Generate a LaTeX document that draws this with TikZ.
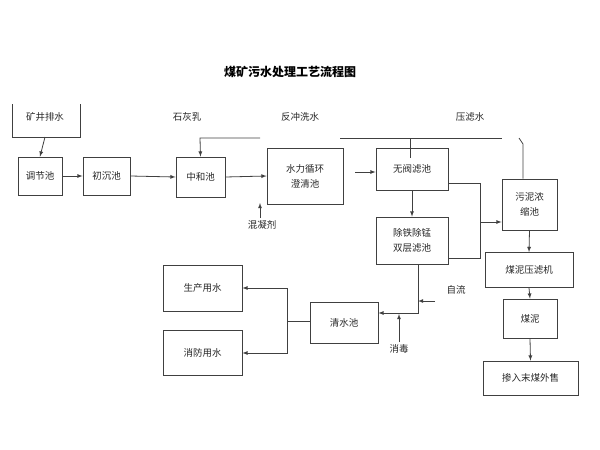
\documentclass[tikz,border=0pt]{standalone}
\usepackage{fontspec}
\newfontfamily\cjk{Noto Sans CJK SC}
\begin{document}
\begin{tikzpicture}[x=1pt,y=-1pt,
  box/.style={draw=black!75,line width=0.8pt,rectangle,inner sep=1pt,font=\cjk\fontsize{9.5}{15}\selectfont,align=center,text=black!85},
  lbl/.style={font=\cjk\fontsize{9.5}{11}\selectfont,text=black!85},
  ln/.style={draw=black!75,line width=0.8pt},
  ar/.style={ln,-latex}]
\useasboundingbox (0,0) rectangle (600,450);
\node[font=\cjk\bfseries\fontsize{12}{14}\selectfont] (title) at (290,72) {煤矿污水处理工艺流程图};
\node[box,minimum width=44pt,minimum height=38pt] (tj) at (40,176) {调节池};
\node[box,minimum width=47pt,minimum height=38pt] (cc) at (106.5,176) {初沉池};
\node[box,minimum width=49pt,minimum height=40pt] (zh) at (200.5,177) {中和池};
\node[box,minimum width=76pt,minimum height=56pt] (cq) at (305,176) {水力循环\\澄清池};
\node[box,minimum width=72pt,minimum height=42pt] (wf) at (412,169) {无阀滤池};
\node[box,minimum width=72pt,minimum height=47pt] (ct) at (412,240.5) {除铁除锰\\双层滤池};
\node[box,minimum width=55pt,minimum height=51pt] (wn) at (529.5,204.5) {污泥浓\\缩池};
\node[box,minimum width=88pt,minimum height=35pt] (yl) at (529,270) {煤泥压滤机};
\node[box,minimum width=54pt,minimum height=39pt] (mn) at (530,318.5) {煤泥};
\node[box,minimum width=95pt,minimum height=34pt] (cr) at (530.5,378) {掺入末煤外售};
\node[box,minimum width=68pt,minimum height=41pt] (qs) at (344,322.5) {清水池};
\node[box,minimum width=79pt,minimum height=46pt] (sc) at (202.5,288) {生产用水};
\node[box,minimum width=79pt,minimum height=45pt] (xf) at (202.5,352.5) {消防用水};
\node[lbl] (kj) at (45,117) {矿井排水};
\node[lbl] (shr) at (187,117) {石灰乳};
\node[lbl] (fc) at (300,117) {反冲洗水};
\node[lbl] (ylw) at (470,117) {压滤水};
\node[lbl] (hn) at (262,225) {混凝剂};
\node[lbl] (zl) at (456,290) {自流};
\node[lbl] (xd) at (399,349) {消毒};
\coordinate (k1) at (12,104); \coordinate (k2) at (12,137); \coordinate (k3) at (80,137); \coordinate (k4) at (80,104);
\coordinate (a1) at (260,138); \coordinate (a2) at (200,138);
\coordinate (b1) at (340,138); \coordinate (b2) at (502,138); \coordinate (b3) at (410,138); \coordinate (b4) at (410,158);
\coordinate (c1) at (519,138); \coordinate (c2) at (523,144);
\coordinate (h1) at (260,218); \coordinate (h2) at (260,203);
\coordinate (s1) at (355,172);
\coordinate (r1) at (480,183); \coordinate (r2) at (480,258); \coordinate (r3) at (480,222);
\coordinate (d1) at (418,313); \coordinate (z1) at (435,301); \coordinate (z2) at (418,301);
\coordinate (x1) at (399,342); \coordinate (x2) at (399,314);
\coordinate (q1) at (287,321); \coordinate (q2) at (287,288); \coordinate (q3) at (287,353);
\draw[ln] (k1) -- (k2) -- (k3) -- (k4);
\draw[ar] (45,137) -- (tj.north);
\draw[ar] (tj.east) -- (cc.west);
\draw[ar] (cc.east) -- (zh.west);
\draw[ar] (zh.east) -- (cq.west);
\draw[ar] (a1) -- (a2) -- (zh.north);
\draw[ln] (b1) -- (b2);
\draw[ln] (b3) -- (b4);
\draw[ln] (c1) -- (c2) -- (c2 |- wn.north);
\draw[ar] (h1) -- (h2);
\draw[ar] (s1) -- (s1 -| wf.west);
\draw[ar] (wf.south) -- (ct.north);
\draw[ln] (wf.east |- r1) -- (r1) -- (r2) -- (ct.east |- r2);
\draw[ar] (r3) -- (r3 -| wn.west);
\draw[ar] (wn.south) -- (yl.north);
\draw[ar] (yl.south) -- (mn.north);
\draw[ar] (mn.south) -- (cr.north);
\draw[ar] (ct.south -| d1) -- (d1) -- (d1 -| qs.east);
\draw[ar] (z1) -- (z2);
\draw[ar] (x1) -- (x2);
\draw[ln] (q1 -| qs.west) -- (q1);
\draw[ar] (q2) -- (q3) -- (q3 -| xf.east);
\draw[ar] (q2) -- (q2 -| sc.east);
\end{tikzpicture}
\end{document}
